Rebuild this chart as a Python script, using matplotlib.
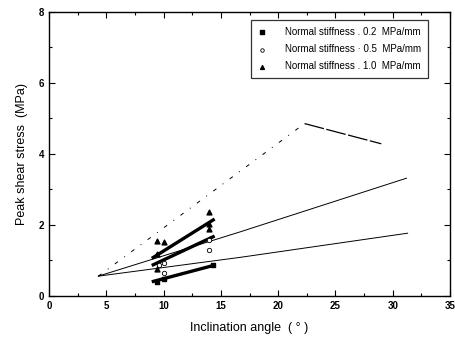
import matplotlib
matplotlib.use("Agg")
import matplotlib.pyplot as plt
from matplotlib.ticker import MultipleLocator

plt.rcParams['font.family'] = ['Liberation Sans', 'DejaVu Sans']

# Data
sq_x = [9.4, 10.06, 14.3]
sq_y = [0.39, 0.46, 0.86]
ci_x = [10.06, 10.06, 9.6, 13.96, 13.96]
ci_y = [0.63, 0.93, 0.85, 1.29, 1.57]
tr_x = [9.45, 10.06, 9.4, 9.45, 13.96, 13.96, 13.96]
tr_y = [1.54, 1.50, 1.17, 0.74, 2.35, 2.02, 1.87]

# fitted thick lines
fit_x = [8.96, 14.45]
fit_low = [0.39, 0.86]
fit_mid = [0.85, 1.68]
fit_high = [1.05, 2.16]

# thin curves
low_x = [4.3, 16.7, 31.3]
low_y = [0.55, 1.08, 1.76]
mid_x = [4.3, 16.7, 31.2]
mid_y = [0.55, 1.80, 3.31]
top_dash_x = [4.3, 22.3]
top_dash_y = [0.55, 4.85]
top_solid_x = [22.3, 29.0]
top_solid_y = [4.85, 4.28]

labels = ["Normal stiffness . 0.2  MPa/mm",
          "Normal stiffness · 0.5  MPa/mm",
          "Normal stiffness . 1.0  MPa/mm"]

fig = plt.figure(figsize=(4.55, 3.47), dpi=100)
ax = fig.add_axes([0.108, 0.148, 0.881, 0.818])

ax.plot(low_x, low_y, color='black', lw=0.7)
ax.plot(mid_x, mid_y, color='black', lw=0.7)
ax.plot(top_dash_x, top_dash_y, color='black', lw=0.7, dashes=(4, 8, 1, 8))
ax.plot(top_solid_x, top_solid_y, color='black', lw=0.9, dashes=(16, 2))

for fy in (fit_low, fit_mid, fit_high):
    ax.plot(fit_x, fy, color='black', lw=2.4, solid_capstyle='butt')

ax.scatter(sq_x, sq_y, marker='s', s=9, color='black', label=labels[0], zorder=3)
ax.scatter(ci_x, ci_y, marker='o', s=10, facecolors='white', edgecolors='black',
           linewidths=0.6, label=labels[1], zorder=3)
ax.scatter(tr_x, tr_y, marker='^', s=12, color='black', label=labels[2], zorder=3)

ax.set_xlim(0, 35)
ax.set_ylim(0, 8)
ax.xaxis.set_major_locator(MultipleLocator(5))
ax.xaxis.set_minor_locator(MultipleLocator(2.5))
ax.yaxis.set_major_locator(MultipleLocator(2))
ax.yaxis.set_minor_locator(MultipleLocator(1))
ax.tick_params(which='both', direction='in', top=True, right=True,
               labelsize=7, width=0.8)
ax.tick_params(which='major', length=4)
ax.tick_params(which='minor', length=2)
for lab in ax.get_xticklabels() + ax.get_yticklabels():
    lab.set_fontweight('bold')
for sp in ax.spines.values():
    sp.set_linewidth(1.0)

ax.set_xlabel("Inclination angle  ( ° )", fontsize=9, labelpad=8)
ax.set_ylabel("Peak shear stress  (MPa)", fontsize=9, labelpad=8)

leg = ax.legend(loc='upper right', bbox_to_anchor=(0.957, 0.988), fontsize=7,
                frameon=True, fancybox=False, edgecolor='black',
                handletextpad=2.0, borderpad=0.7, labelspacing=0.75,
                handlelength=0.8, markerscale=0.8)
leg.get_frame().set_linewidth(0.9)

fig.savefig("out.png", dpi=100)
